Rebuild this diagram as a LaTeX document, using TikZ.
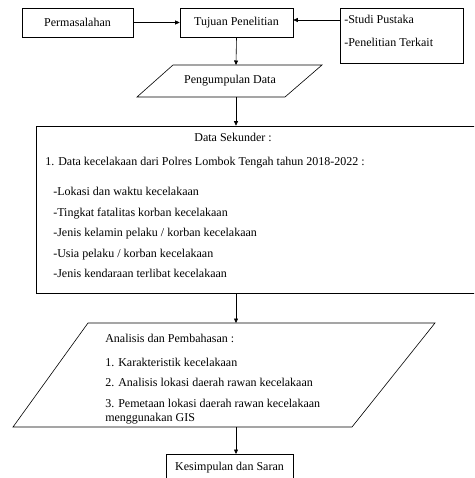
\documentclass[tikz,border=0pt]{standalone}
\usepackage{fontspec}
\setmainfont{Liberation Serif}
\usetikzlibrary{arrows.meta}

\tikzset{
  box/.style={draw, rectangle, inner sep=0pt},
  txt/.style={anchor=base west, inner sep=0pt},
  arr/.style={-{Triangle[length=4.5pt,width=4pt]}},
}

\begin{document}
\begin{tikzpicture}[x=1pt,y=-1pt,font=\fontsize{12}{14}\selectfont,line width=0.6pt]
    \useasboundingbox (0,0) rectangle (474,478);
    \clip (0,0) rectangle (474,478);

    % top row
    \node[box, minimum width=111pt, minimum height=29pt] (perm) at (77.5,22.5) {Permasalahan};
    \node[box, minimum width=113pt, minimum height=29pt] (tujuan) at (236.5,22.5) {Tujuan Penelitian};
    \node[box, minimum width=123pt, minimum height=55pt] (studi) at (401.5,35.5) {};
    \node[txt] (studia) at (344,24) {-Studi Pustaka};
    \node[txt] (studib) at (344,47) {-Penelitian Terkait};
    \draw[arr] (perm.east) -- (tujuan.west);
    \draw[arr] (tujuan.east -| studi.west) ++(0,-2.5) coordinate (studiin) -- (studiin -| tujuan.east);

    % pengumpulan data
    \draw (173,65) coordinate (pengTL) -- (322,65) -- (285,97) -- (137,97) -- cycle;
    \coordinate (pengN) at (236,65);
    \coordinate (pengS) at (236,97);
    \node[inner sep=0pt] (peng) at (230,81) {Pengumpulan Data};
    \draw[arr] (tujuan.south) -- (pengN);

    % data sekunder
    \node[box, minimum width=448pt, minimum height=167pt] (sek) at (260,209.5) {};
    \node[anchor=base, inner sep=0pt] (sekhead) at (233,142) {Data Sekunder :};
    \node[txt] (sek1) at (45,166) {1. Data kecelakaan dari Polres Lombok Tengah tahun 2018-2022 :};
    \node[txt] (seka) at (53,196) {-Lokasi dan waktu kecelakaan};
    \node[txt] (sekb) at (53,216) {-Tingkat fatalitas korban kecelakaan};
    \node[txt] (sekc) at (53,236) {-Jenis kelamin pelaku / korban kecelakaan};
    \node[txt] (sekd) at (53,257) {-Usia pelaku / korban kecelakaan};
    \node[txt] (seke) at (53,277) {-Jenis kendaraan terlibat kecelakaan};
    \draw[arr] (pengS) -- (sek.north -| pengS);

    % analisis
    \draw (88,323) -- (435,323) -- (352,427) -- (13,427) -- cycle;
    \coordinate (analN) at (236,323);
    \coordinate (analS) at (236,427);
    \node[txt] (analhead) at (105,342) {Analisis dan Pembahasan :};
    \node[txt] (anal1) at (105,366) {1. Karakteristik kecelakaan};
    \node[txt] (anal2) at (105,386) {2. Analisis lokasi daerah rawan kecelakaan};
    \node[txt] (anal3) at (105,407) {3. Pemetaan lokasi daerah rawan kecelakaan};
    \node[txt] (anal3b) at (105,421) {menggunakan GIS};
    \draw[arr] (sek.south -| analN) -- (analN);

    \node[box, anchor=north, minimum width=127pt, inner ysep=8pt, text depth=20pt] (simpul) at (229.5,454) {Kesimpulan dan Saran};
    \draw[arr] (analS) -- (simpul.north -| analS);

  \end{tikzpicture}
\end{document}
